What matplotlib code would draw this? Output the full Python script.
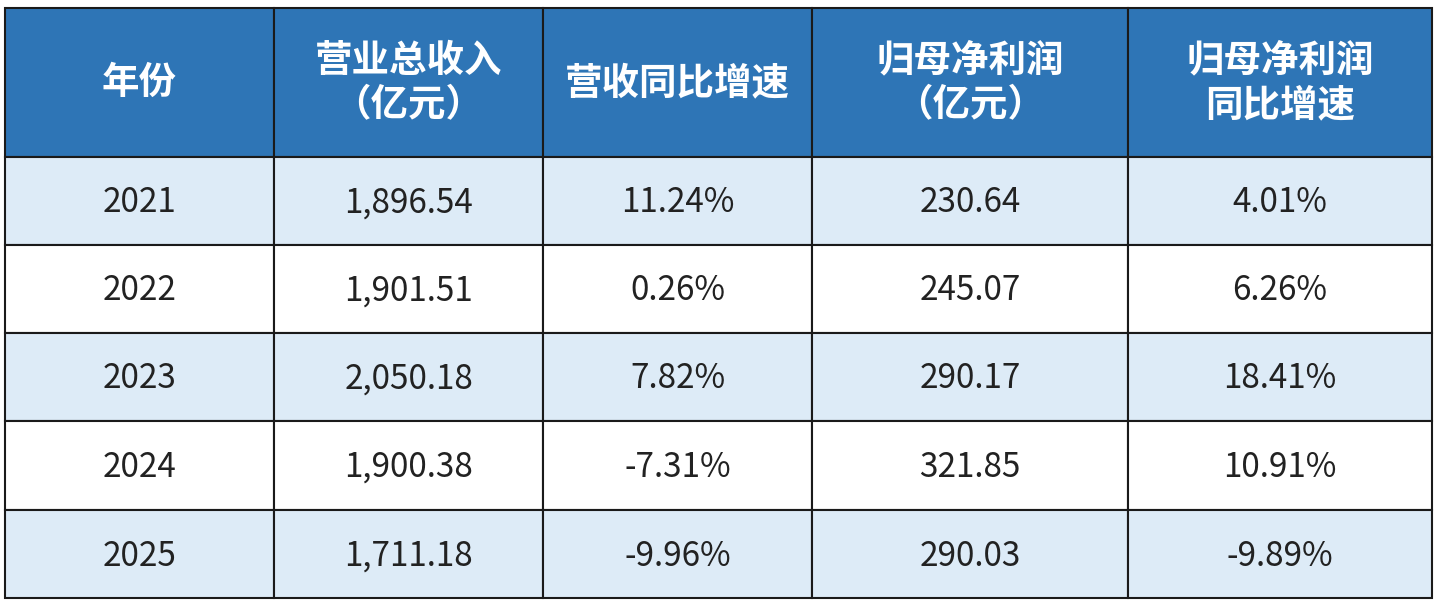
import matplotlib
matplotlib.use("Agg")
import matplotlib.pyplot as plt
from matplotlib.patches import Rectangle

plt.rcParams['font.family'] = ['Noto Sans CJK SC', 'DejaVu Sans']

headers = ["年份", "营业总收入\n(亿元)", "营收同比增速", "归母净利润\n(亿元)", "归母净利润\n同比增速"]
years = ["2021", "2022", "2023", "2024", "2025"]
revenue = ["1,896.54", "1,901.51", "2,050.18", "1,900.38", "1,711.18"]
rev_growth = ["11.24%", "0.26%", "7.82%", "-7.31%", "-9.96%"]
profit = ["230.64", "245.07", "290.17", "321.85", "290.03"]
profit_growth = ["4.01%", "6.26%", "18.41%", "10.91%", "-9.89%"]

cols = [5, 274, 543, 812, 1128, 1432]
rows = [8, 157, 245, 333, 421, 510, 598]

fig = plt.figure(figsize=(14.39, 6.09), dpi=100)
ax = fig.add_axes([0, 0, 1, 1])
ax.set_xlim(0, 1439)
ax.set_ylim(609, 0)
ax.axis('off')

data = list(zip(years, revenue, rev_growth, profit, profit_growth))
for c in range(5):
    x0, x1 = cols[c], cols[c + 1]
    ax.add_patch(Rectangle((x0, rows[0]), x1 - x0, rows[1] - rows[0], facecolor='#2E75B6', edgecolor='#1a1a1a', lw=1.5))
    ax.text((x0 + x1) / 2, (rows[0] + rows[1]) / 2, headers[c].replace("(", "（").replace(")", "）"),
            ha='center', va='center', color='white', fontsize=27, fontweight='bold', linespacing=1.2)
    for r in range(5):
        y0, y1 = rows[r + 1], rows[r + 2]
        fc = '#DDEBF7' if r % 2 == 0 else 'white'
        ax.add_patch(Rectangle((x0, y0), x1 - x0, y1 - y0, facecolor=fc, edgecolor='#1a1a1a', lw=1.5))
        ax.text((x0 + x1) / 2, (y0 + y1) / 2 + 2, data[r][c], ha='center', va='center',
                color='#222222', fontsize=24)

fig.savefig("out.png", dpi=100)
